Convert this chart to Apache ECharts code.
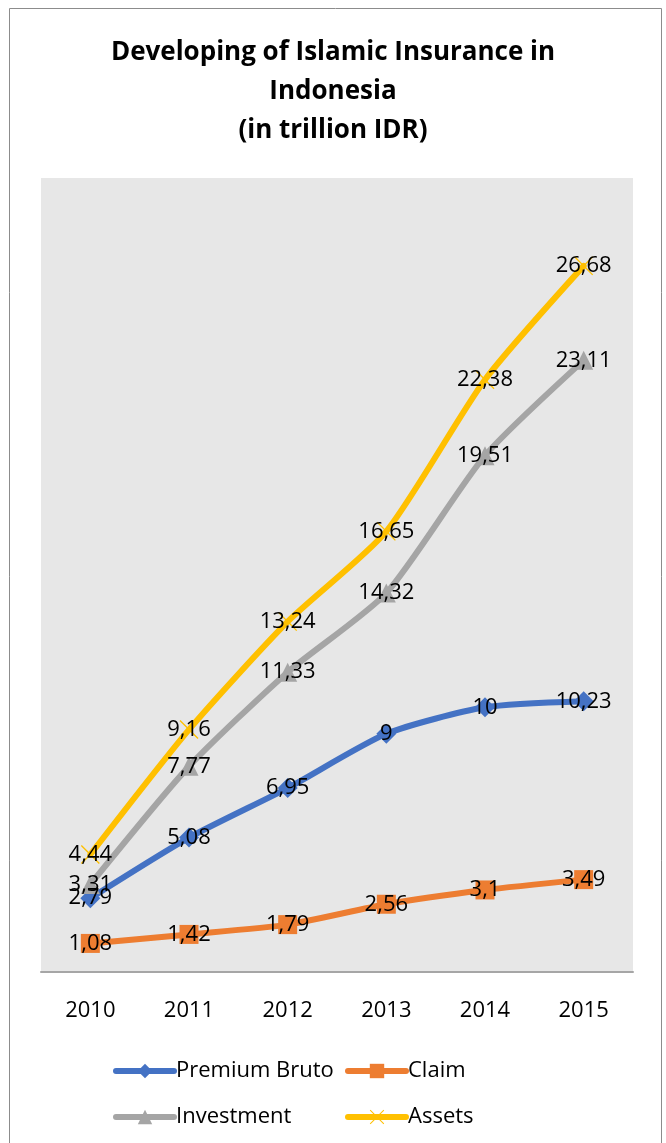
<!DOCTYPE html>
<html><head><meta charset="utf-8">
<script src="https://cdn.jsdelivr.net/npm/echarts@6/dist/echarts.min.js"></script>
<style>html,body{margin:0;padding:0;background:#fff}#c{width:666px;height:1143px}</style>
</head><body><div id="c"></div>
<script>
const categories = ['2010','2011','2012','2013','2014','2015'];
const premiumBruto = [2.79, 5.08, 6.95, 9, 10, 10.23];
const claim = [1.08, 1.42, 1.79, 2.56, 3.1, 3.49];
const investment = [3.31, 7.77, 11.33, 14.32, 19.51, 23.11];
const assets = [4.44, 9.16, 13.24, 16.65, 22.38, 26.68];
const seriesNames = ['Premium Bruto','Claim','Investment','Assets'];

const FONT = 'Open Sans';
const xPath = 'path://M0,1L1,0L10,9L19,0L20,1L11,10L20,19L19,20L10,11L1,20L0,19L9,10Z';
const lbl = {show:true, position:'inside', color:'#000', fontSize:22, fontFamily:FONT,
  formatter: p => String(p.value).replace('.', ',')};
function mk(name, data, color, symbol, size){
  return {name, type:'line', data, smooth:0.22, symbol, symbolSize:size,
    lineStyle:{color, width:6, cap:'round'}, itemStyle:{color}, label:lbl, z:2};
}
const chart = echarts.init(document.getElementById('c'));
const legBase = {itemWidth:58, itemHeight:18, itemGap:0,
  lineStyle:{width:6, cap:'round'},
  textStyle:{fontSize:22, fontFamily:FONT, color:'#000', padding:[0,0,0,-3]}};
chart.setOption({
  animation:false,
  backgroundColor:'#fff',
  graphic:[{type:'rect', shape:{x:9.5,y:8.5,width:652,height:1160}, style:{fill:'none', stroke:'#8c8c8c', lineWidth:1}, z:-10}],
  title:{text:'Developing of Islamic Insurance in\nIndonesia\n(in trillion IDR)', left:'center', top:28,
    textStyle:{fontSize:26, fontWeight:'bold', fontFamily:FONT, color:'#000', lineHeight:39}},
  grid:{left:41, right:33, top:178, bottom:171, show:true, backgroundColor:'#e7e7e7', borderWidth:0},
  xAxis:{type:'category', data:categories, boundaryGap:true,
    axisLine:{lineStyle:{color:'#a6a6a6', width:2}}, axisTick:{show:false},
    axisLabel:{color:'#000', fontSize:22, fontFamily:FONT, margin:28}},
  yAxis:{type:'value', min:0, max:30, show:false, splitLine:{show:false}},
  legend:[
    Object.assign({}, legBase, {data:[seriesNames[0]], left:108, top:1055}),
    Object.assign({}, legBase, {data:[seriesNames[1]], left:340, top:1055}),
    Object.assign({}, legBase, {data:[seriesNames[2]], left:108, top:1101}),
    Object.assign({}, legBase, {data:[seriesNames[3]], left:340, top:1101})
  ],
  series:[
    mk(seriesNames[0], premiumBruto, '#4472C4', 'diamond', 20),
    mk(seriesNames[1], claim, '#ED7D31', 'rect', 19),
    mk(seriesNames[2], investment, '#A5A5A5', 'triangle', 19),
    mk(seriesNames[3], assets, '#FFC000', xPath, 19)
  ]
});
</script></body></html>
